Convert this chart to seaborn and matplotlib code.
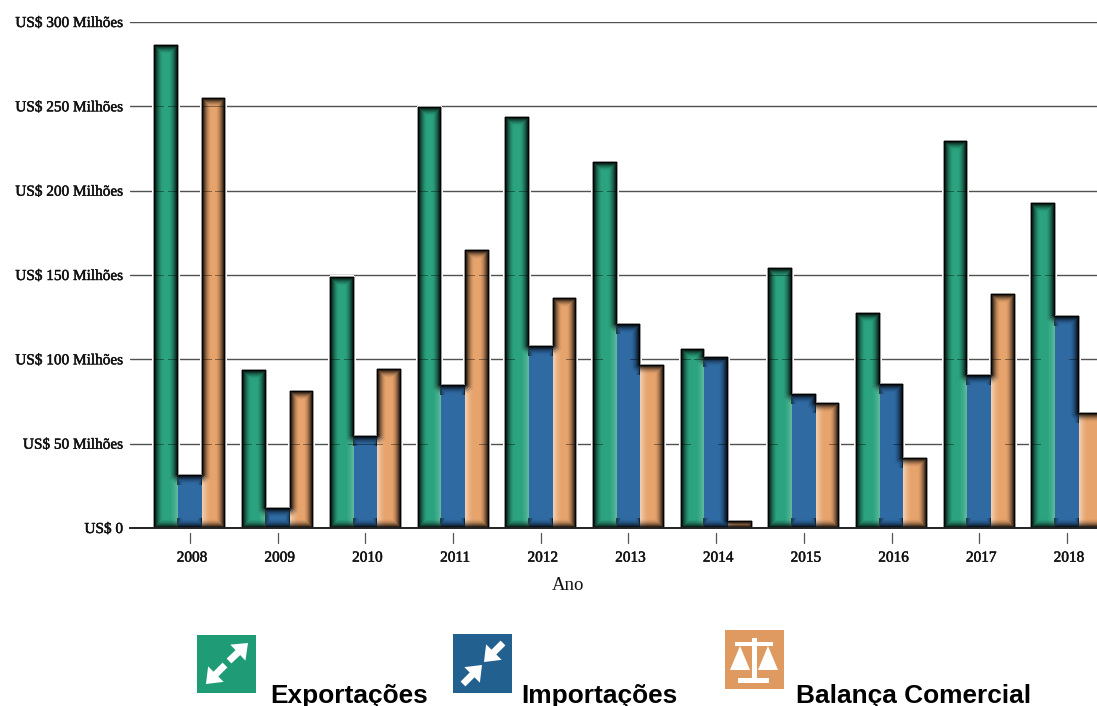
import numpy as np
import pandas as pd
import seaborn as sns
import matplotlib
matplotlib.use('Agg')
import matplotlib.pyplot as plt
import matplotlib.patheffects as pe
from matplotlib.patches import Rectangle, Polygon
from matplotlib.transforms import ScaledTranslation

# valores em milhoes de US$
anos = ['2008', '2009', '2010', '2011', '2012', '2013', '2014', '2015', '2016', '2017', '2018']
exportacoes = [286.3, 93.7, 148.8, 249.6, 243.6, 217.0, 106.0, 154.0, 127.4, 229.4, 192.6]
importacoes = [31.4, 11.9, 54.5, 84.8, 107.9, 121.0, 101.4, 79.4, 85.4, 90.7, 125.7]
balanca = [254.9, 81.2, 94.2, 164.8, 136.3, 96.6, 4.0, 74.0, 41.5, 138.7, 68.2]
y_ticks = [0, 50, 100, 150, 200, 250, 300]
y_labels = ['US$ 0', 'US$ 50 Milhões', 'US$ 100 Milhões', 'US$ 150 Milhões',
            'US$ 200 Milhões', 'US$ 250 Milhões', 'US$ 300 Milhões']
series = ['Exportações', 'Importações', 'Balança Comercial']
cores_barras = ['#2BA37E', '#2F6AA3', '#E6A36C']
cores_icones = ['#1F9B75', '#22608F', '#DE9A61']

df = pd.DataFrame({'ano': anos, 'Exportações': exportacoes,
                   'Importações': importacoes, 'Balança Comercial': balanca})
df = df.melt(id_vars='ano', var_name='serie', value_name='valor')

W, H = 1097, 706
AX_L, AX_T, AX_B = 130, 22, 528
sns.set_theme(style='white')
plt.rcParams['font.family'] = ['Liberation Serif', 'DejaVu Serif']

fig = plt.figure(figsize=(W / 100, H / 100), dpi=100)
ax = fig.add_axes([AX_L / W, (H - AX_B) / H, (W - AX_L) / W, (AX_B - AX_T) / H])

sns.barplot(data=df, x='ano', y='valor', hue='serie', hue_order=series, order=anos,
            palette=cores_barras, width=0.81, gap=0, saturation=1, legend=False,
            linewidth=0, zorder=2, ax=ax)

xlim = (-0.684, 10.343)
ax.set_xlim(*xlim)
ax.set_ylim(0, 300)

for v in y_ticks:
    ax.axhline(v, color='#333333', linewidth=1.0, alpha=0.85, zorder=1)

# brilho interno das barras: mascara em pixels feita a partir das proprias barras
nx, ny = W - AX_L, AX_B - AX_T
fig_h = fig.bbox.height

def para_pixel(x, y):
    px, py = ax.transData.transform((x, y))
    return px - AX_L, fig_h - py - AX_T

mask = np.zeros((ny, nx), dtype=bool)
for p in ax.patches:
    if p.get_height() <= 0:
        continue
    c0, r1 = para_pixel(p.get_x(), 0)
    c1, r0 = para_pixel(p.get_x() + p.get_width(), p.get_height())
    mask[int(round(r0)):int(round(r1)), max(int(round(c0)), 0):min(int(round(c1)), nx)] = True

def vizinhos(m, diag):
    passos = [(1, 1), (1, -1), (-1, 1), (-1, -1)] if diag else [(1, 0), (-1, 0), (0, 1), (0, -1)]
    out = m.copy()
    for dr, dc in passos:
        out &= np.roll(np.roll(m, dr, axis=0), dc, axis=1)
    return out

pad = np.pad(mask, 1)
pad[:, -1] = pad[:, -2]
dist = np.full(pad.shape, 99)
cur = pad.copy()
for k in range(10):
    novo = vizinhos(cur, k % 2 == 1)
    novo[:, -1] = novo[:, -2]
    dist[cur & ~novo] = k
    cur = novo
dist = dist[1:-1, 1:-1]

escuro = np.zeros((ny, nx))
escuro[mask] = np.clip(0.98 * (1 - dist[mask] / 9) ** 1.8, 0, 1)

claro = np.zeros((ny, nx))
forca = {0: (-1, 0.24), 1: (1, 0.46)}
for c, (lado, a) in forca.items():
    for i, ano in enumerate(anos):
        b1, b2 = ax.containers[c][i], ax.containers[c + 1][i]
        xb = b1.get_x() + b1.get_width()
        col, _ = para_pixel(xb, 0)
        _, r0 = para_pixel(xb, min(b1.get_height(), b2.get_height()))
        col, r0 = int(round(col)), int(round(r0))
        for k in range(8):
            cc = col + k if lado > 0 else col - 1 - k
            if 0 <= cc < nx:
                claro[r0:, cc] = np.maximum(claro[r0:, cc], a * (1 - k / 8) ** 1.5)
        # linha fina entre as barras, e o azul escurece um pouco nas laterais
        if 0 <= col < nx:
            escuro[r0:, col - 1] = np.maximum(escuro[r0:, col - 1], 0.65)
        for k in range(4):
            cc = col + k if c == 0 else col - 1 - k
            if 0 <= cc < nx:
                escuro[r0:, cc] = np.maximum(escuro[r0:, cc], 0.4 * (1 - k / 4))

# a grade aparece bem de leve por cima das barras
for v in y_ticks:
    _, r = para_pixel(0, v)
    r = int(round(r))
    if 0 <= r < ny:
        escuro[r, mask[r]] = 1 - (1 - escuro[r, mask[r]]) * 0.6

# halo branco em volta das barras, interrompendo a grade
halo = np.zeros((ny, nx, 4))
fora = mask.copy()
for k in range(2):
    maior = fora.copy()
    maior[1:, :] |= fora[:-1, :]
    maior[:-1, :] |= fora[1:, :]
    maior[:, 1:] |= fora[:, :-1]
    maior[:, :-1] |= fora[:, 1:]
    anel = maior & ~fora
    cor = 0.6 if k == 0 else 1.0
    halo[anel] = (cor, cor, cor, 1.0)
    fora = maior

ext = (xlim[0], xlim[1], 0, 300)
ax.imshow(halo, extent=ext, aspect='auto', origin='upper', zorder=1.5, interpolation='nearest')
img_c = np.ones((ny, nx, 4))
img_c[..., 3] = claro
ax.imshow(img_c, extent=ext, aspect='auto', origin='upper', zorder=2.5, interpolation='nearest')
img_e = np.zeros((ny, nx, 4))
img_e[..., 3] = escuro
ax.imshow(img_e, extent=ext, aspect='auto', origin='upper', zorder=3, interpolation='nearest')
ax.set_xlim(*xlim)
ax.set_ylim(0, 300)

sns.despine(ax=ax, left=True, top=True, right=True)
ax.spines['bottom'].set_color('#222222')
ax.spines['bottom'].set_linewidth(1.4)
ax.spines['bottom'].set_zorder(5)
ax.set_yticks(y_ticks, y_labels, fontsize=11, color='#111111')
ax.tick_params(axis='y', length=0, pad=5)
ax.tick_params(axis='x', length=0, pad=17, labelsize=11, labelcolor='#111111')
desloca = ScaledTranslation(2 / 100, 0, fig.dpi_scale_trans)
for lbl in ax.get_xticklabels():
    lbl.set_transform(lbl.get_transform() + desloca)
for lbl in ax.get_xticklabels() + ax.get_yticklabels():
    lbl.set_path_effects([pe.withStroke(linewidth=0.35, foreground='#111111')])
# marcas soltas abaixo do eixo
tr = ax.get_xaxis_transform()
for i in range(len(anos)):
    ax.plot([i, i], [-5 / ny, -15 / ny], transform=tr, color='#555555', linewidth=0.9, clip_on=False)
ax.set_xlim(*xlim)
ax.set_xlabel('Ano', fontsize=13.5, labelpad=0, color='#111111')
ax.xaxis.set_label_coords((568 - AX_L) / nx, -(577 - AX_B) / ny)
ax.set_ylabel('')

# legenda com os icones, em coordenadas de pixel
leg = fig.add_axes([0, 0, 1, 1], zorder=10)
leg.set_xlim(0, W)
leg.set_ylim(H, 0)
leg.axis('off')

def seta(tail, tip, comp=14, larg=11, haste=3.4):
    tail, tip = np.array(tail, float), np.array(tip, float)
    u = (tip - tail) / np.linalg.norm(tip - tail)
    n = np.array([-u[1], u[0]])
    base = tip - u * comp
    pts = [tail + n * haste, base + n * haste, base + n * larg, tip,
           base - n * larg, base - n * haste, tail - n * haste]
    leg.add_patch(Polygon(pts, closed=True, color='white', linewidth=0))

leg.add_patch(Rectangle((197, 635), 59, 58, color=cores_icones[0], linewidth=0))
seta((229, 661), (248, 643))
seta((225, 665), (206, 684))

leg.add_patch(Rectangle((453, 634), 59, 59, color=cores_icones[1], linewidth=0))
seta((503, 643), (484, 662))
seta((463, 684), (482, 665))

leg.add_patch(Rectangle((725, 630), 59, 59, color=cores_icones[2], linewidth=0))
leg.add_patch(Rectangle((735, 642), 38, 4, color='white', linewidth=0))
leg.add_patch(Rectangle((752, 638), 4.5, 40, color='white', linewidth=0))
leg.add_patch(Rectangle((738, 678), 31, 4.5, color='white', linewidth=0))
leg.add_patch(Polygon([(740, 646), (750, 670), (730, 670)], closed=True, color='white', linewidth=0))
leg.add_patch(Polygon([(768, 646), (778, 670), (758, 670)], closed=True, color='white', linewidth=0))

sans = ['Liberation Sans', 'DejaVu Sans']
for txt, xt in zip(series, [270, 521, 796]):
    leg.text(xt, 702.5, txt, family=sans, fontweight='bold', fontsize=18.9, color='black', va='baseline', ha='left')

fig.savefig('out.png', dpi=100)
